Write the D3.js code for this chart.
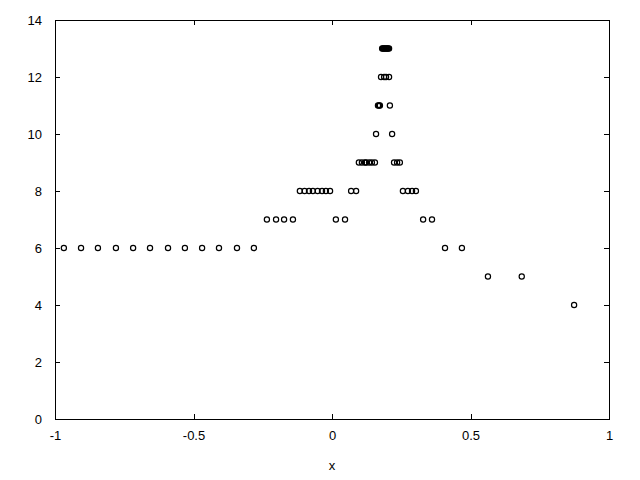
<!DOCTYPE html>
<html>
<head>
<meta charset="utf-8">
<script src="https://cdn.jsdelivr.net/npm/d3@7"></script>
<style>
  body { margin: 0; background: #fff; }
  text { font-family: "Liberation Sans", Arial, sans-serif; font-size: 13px; fill: #000; }
</style>
</head>
<body>
<svg id="chart" width="640" height="480"></svg>
<script>
// points, grouped by y level
let xs6 = [-0.968, -0.906, -0.845, -0.780, -0.718, -0.657, -0.592, -0.531, -0.469, -0.408, -0.343, -0.282, 0.408, 0.469];
let xs7 = [-0.235, -0.202, -0.173, -0.141, 0.014, 0.047, 0.329, 0.361];
let xs8 = [-0.116, -0.099, -0.083, -0.069, -0.052, -0.036, -0.022, -0.007, 0.069, 0.087, 0.256, 0.274, 0.289, 0.303];
let xs9 = [0.097, 0.108, 0.119, 0.123, 0.134, 0.144, 0.155, 0.224, 0.235, 0.245];
let xs10 = [0.159, 0.217];
let xs11 = [0.166, 0.170, 0.173, 0.209];
let xs12 = [0.177, 0.188, 0.195, 0.206];
let xs13 = [0.181, 0.184, 0.188, 0.191, 0.195, 0.199, 0.202, 0.206];
let xs5 = [0.563, 0.685];
let xs4 = [0.874];

let xTicks = [-1, -0.5, 0, 0.5, 1];
let yTicks = [0, 2, 4, 6, 8, 10, 12, 14];

let levels = [[4, xs4], [5, xs5], [6, xs6], [7, xs7], [8, xs8], [9, xs9], [10, xs10], [11, xs11], [12, xs12], [13, xs13]];
let points = [];
levels.forEach(l => l[1].forEach(v => points.push({x: v, y: l[0]})));

let plotL = 55, plotR = 609, plotT = 20, plotB = 419;

let x = d3.scaleLinear().domain([-1, 1]).range([plotL, plotR]);
let y = d3.scaleLinear().domain([0, 14]).range([plotB, plotT]);

let svg = d3.select("#chart");
let tick = 5;

// bottom axis + mirrored top ticks
let xAxis = svg.append("g")
    .attr("transform", "translate(0," + plotB + ")")
    .call(d3.axisBottom(x).tickValues(xTicks).tickSize(-tick).tickPadding(12).tickFormat(d => String(d)));
let xTop = svg.append("g")
    .attr("transform", "translate(0," + plotT + ")")
    .call(d3.axisTop(x).tickValues(xTicks).tickSize(-tick).tickFormat(""));

let yAxis = svg.append("g")
    .attr("transform", "translate(" + plotL + ",0)")
    .call(d3.axisLeft(y).tickValues(yTicks).tickSize(-tick).tickPadding(13).tickFormat(d => String(d)));
let yRight = svg.append("g")
    .attr("transform", "translate(" + plotR + ",0)")
    .call(d3.axisRight(y).tickValues(yTicks).tickSize(-tick).tickFormat(""));

svg.selectAll(".domain").remove();
svg.selectAll(".tick line").attr("stroke", "#000").attr("shape-rendering", "crispEdges");
svg.selectAll(".tick text").attr("font-size", 13).attr("font-family", "Liberation Sans, Arial, sans-serif");
yAxis.selectAll(".tick text").attr("dy", "0.35em");

// border box
svg.append("rect")
    .attr("x", plotL + 0.5)
    .attr("y", plotT + 0.5)
    .attr("width", plotR - plotL)
    .attr("height", plotB - plotT)
    .attr("fill", "none")
    .attr("stroke", "#000")
    .attr("shape-rendering", "crispEdges");

svg.append("text")
    .attr("x", (plotL + plotR) / 2)
    .attr("y", 470)
    .style("text-anchor", "middle")
    .text("x");

// open circle markers
svg.selectAll(".pt")
    .data(points)
  .enter().append("circle")
    .attr("class", "pt")
    .attr("cx", d => x(d.x))
    .attr("cy", d => y(d.y))
    .attr("r", 2.6)
    .attr("fill", "none")
    .attr("stroke", "#000")
    .attr("stroke-width", 1.2);
</script>
</body>
</html>
